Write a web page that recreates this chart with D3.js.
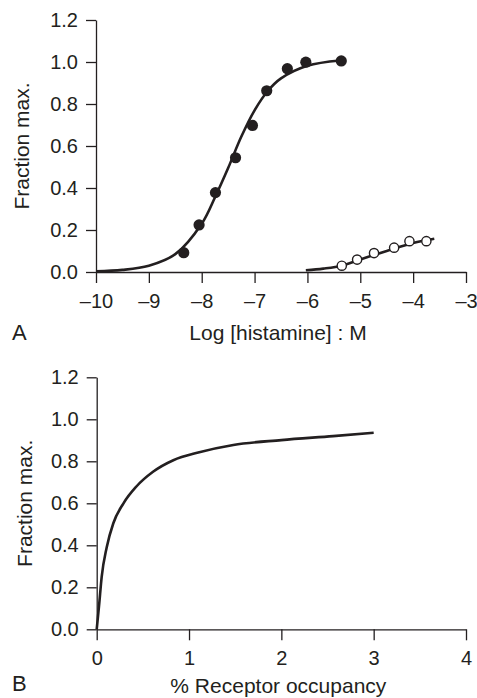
<!DOCTYPE html>
<html>
<head>
<meta charset="utf-8">
<script src="https://cdn.jsdelivr.net/npm/d3@7"></script>
<style>
  body { margin: 0; background: #fff; }
  text { font-family: "Liberation Sans", Arial, sans-serif; fill: #231f20; }
</style>
</head>
<body>
<div id="chart"></div>
<script>
// panel A: histamine concentration-response
const logHistamine = [-8.34, -8.05, -7.74, -7.36, -7.04, -6.77, -6.38, -6.03, -5.36];
const responseFull = [0.092, 0.224, 0.378, 0.544, 0.698, 0.863, 0.968, 0.999, 1.005];
const logHistamineOpen = [-5.35, -5.06, -4.74, -4.36, -4.07, -3.75];
const responseOpen = [0.03, 0.059, 0.09, 0.116, 0.147, 0.147];
// fitted curves
const fitFullX = [-10, -9.5, -9, -8.5, -8, -7.75, -7.5, -7.25, -7, -6.75, -6.5, -6, -5.38];
const fitFullY = [0.003, 0.01, 0.03, 0.085, 0.23, 0.355, 0.495, 0.645, 0.77, 0.862, 0.922, 0.982, 1.007];
const fitOpenX = [-6.03, -5.7, -5.35, -5, -4.5, -4, -3.6];
const fitOpenY = [0.008, 0.016, 0.03, 0.06, 0.1, 0.138, 0.158];
const xTicksA = [-10, -9, -8, -7, -6, -5, -4, -3];
const xTickLabelsA = ["\u201310", "\u20139", "\u20138", "\u20137", "\u20136", "\u20135", "\u20134", "\u20133"];

// panel B: occupancy-response
const occupancy = [0, 0.025, 0.054, 0.108, 0.18, 0.29, 0.43, 0.61, 0.83, 1.1, 1.48, 2.0, 2.56, 3.0];
const responseOcc = [0, 0.11, 0.25, 0.39, 0.505, 0.6, 0.68, 0.75, 0.805, 0.842, 0.878, 0.901, 0.92, 0.936];
const xTicksB = [0, 1, 2, 3, 4];
const xTickLabelsB = ["0", "1", "2", "3", "4"];

const yTicks = [0, 0.2, 0.4, 0.6, 0.8, 1.0, 1.2];
const yTickLabels = ["0.0", "0.2", "0.4", "0.6", "0.8", "1.0", "1.2"];

const width = 477, height = 698;
const ink = "#231f20";

const svg = d3.select("#chart")
    .append("svg")
    .attr("width", width)
    .attr("height", height);

svg.append("rect").attr("width", width).attr("height", height).attr("fill", "#fff");

function panel(opts) {
    const x = d3.scaleLinear().domain(opts.xDomain).range(opts.xRange);
    const y = d3.scaleLinear().domain([0, 1.2]).range(opts.yRange);

    const g = svg.append("g");

    const yAxis = d3.axisLeft(y)
        .tickValues(yTicks)
        .tickFormat((d, i) => yTickLabels[i])
        .tickSize(10)
        .tickSizeOuter(0)
        .tickPadding(8);

    const xAxis = d3.axisBottom(x)
        .tickValues(opts.xTicks)
        .tickFormat((d, i) => opts.xLabels[i])
        .tickSize(11)
        .tickSizeOuter(0)
        .tickPadding(opts.xPad);

    g.append("g")
        .attr("transform", `translate(0,${y(0)})`)
        .call(xAxis);

    g.append("g")
        .attr("transform", `translate(${x(opts.xDomain[0])},0)`)
        .call(yAxis);

    g.selectAll(".domain, .tick line")
        .attr("stroke", ink)
        .attr("stroke-width", 1.3);
    g.selectAll(".tick text")
        .attr("fill", ink)
        .style("font-size", "20px");

    g.append("text")
        .attr("transform", `translate(${opts.yLabelX},${(y(0) + y(1.2)) / 2}) rotate(-90)`)
        .attr("text-anchor", "middle")
        .style("font-size", "21px")
        .text("Fraction max.");

    g.append("text")
        .attr("x", (opts.xRange[0] + opts.xRange[1]) / 2 - 3)
        .attr("y", opts.xLabelY)
        .attr("text-anchor", "middle")
        .style("font-size", "21px")
        .text(opts.xLabel);

    g.append("text")
        .attr("x", 12)
        .attr("y", opts.letterY)
        .style("font-size", "22px")
        .text(opts.letter);

    return {g, x, y};
}

// ---- A
const a = panel({
    xDomain: [-10, -3], xRange: [96, 466], yRange: [272, 20],
    xTicks: xTicksA, xLabels: xTickLabelsA, xPad: 11,
    xLabel: "Log [histamine] : M", xLabelY: 340, letter: "A", letterY: 340,
    yLabelX: 29
});

const lineA = d3.line()
    .x(d => a.x(d[0]))
    .y(d => a.y(d[1]))
    .curve(d3.curveCatmullRom);

a.g.append("path")
    .attr("d", lineA(d3.zip(fitFullX, fitFullY)))
    .attr("fill", "none")
    .attr("stroke", ink)
    .attr("stroke-width", 2.6);

a.g.append("path")
    .attr("d", lineA(d3.zip(fitOpenX, fitOpenY)))
    .attr("fill", "none")
    .attr("stroke", ink)
    .attr("stroke-width", 2.6);

a.g.selectAll(".full")
    .data(d3.zip(logHistamine, responseFull))
    .join("circle")
    .attr("class", "full")
    .attr("cx", d => a.x(d[0]))
    .attr("cy", d => a.y(d[1]))
    .attr("r", 5.6)
    .attr("fill", ink);

a.g.selectAll(".open")
    .data(d3.zip(logHistamineOpen, responseOpen))
    .join("circle")
    .attr("class", "open")
    .attr("cx", d => a.x(d[0]))
    .attr("cy", d => a.y(d[1]))
    .attr("r", 4.6)
    .attr("fill", "#fff")
    .attr("stroke", ink)
    .attr("stroke-width", 1.4);

// ---- B
const b = panel({
    xDomain: [0, 4], xRange: [96.7, 466], yRange: [629.3, 377.3],
    xTicks: xTicksB, xLabels: xTickLabelsB, xPad: 10.5,
    xLabel: "% Receptor occupancy", xLabelY: 693, letter: "B", letterY: 691,
    yLabelX: 32
});

const lineB = d3.line()
    .x(d => b.x(d[0]))
    .y(d => b.y(d[1]))
    .curve(d3.curveMonotoneX);

b.g.append("path")
    .attr("d", lineB(d3.zip(occupancy, responseOcc)))
    .attr("fill", "none")
    .attr("stroke", ink)
    .attr("stroke-width", 2.6);
</script>
</body>
</html>
